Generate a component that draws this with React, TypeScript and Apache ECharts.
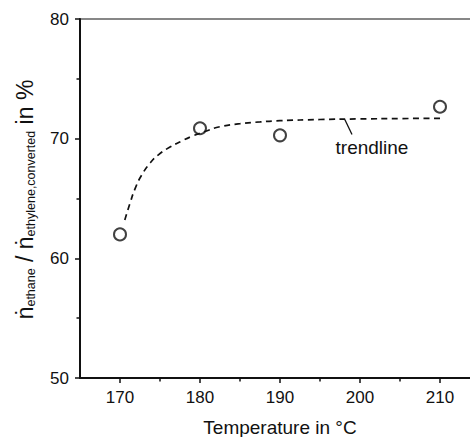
import React, { useEffect, useRef } from 'react';
import * as echarts from 'echarts';

const temperatures = [170, 180, 190, 210];
const ratios = [62.0, 70.87, 70.28, 72.67];

const trendTemps = [170.6, 171.25, 171.9, 172.7, 173.75, 174.8, 176.25, 177.7, 179, 180.6, 182.5, 185, 187.5, 190, 195, 200, 205, 210];
const trendRatios = [63.2, 64.6, 65.85, 66.95, 67.95, 68.65, 69.3, 69.8, 70.2, 70.6, 71.0, 71.25, 71.4, 71.5, 71.6, 71.65, 71.68, 71.7];

const xTickValues = [170, 180, 190, 200, 210];
const xMinorTickValues = [175, 185, 195, 205];
const xRange = [165, 215];
const yRange = [50, 80];
const yInterval = 10;

const xTitle = 'Temperature in °C';
const trendLabel = 'trendline';
const trendLabelAnchor = [196.94, 69.25];
const trendLeaderStart = [198.1, 71.6];
const trendLeaderEnd = [199.0, 70.35];

export default function App() {
  const ref = useRef<HTMLDivElement>(null);
  useEffect(() => {
    const chart = echarts.init(ref.current!, null, { renderer: 'svg' });
    const font = "'Liberation Sans', Arial, Helvetica, sans-serif";
    const ink = '#111';
    const axisLine = { show: true, onZero: false, lineStyle: { color: ink, width: 2 } };
    chart.setOption({
      animation: false,
      grid: {
        left: 80, top: 19, right: 0, bottom: 59,
        containLabel: false, outerBoundsMode: 'none',
        show: true, borderColor: ink, borderWidth: 1.2, backgroundColor: 'transparent',
      },
      xAxis: [
        {
          type: 'value', min: xRange[0], max: xRange[1], position: 'bottom',
          axisLine,
          axisTick: { show: true, customValues: xTickValues, length: 5, lineStyle: { color: ink, width: 1.5 } },
          axisLabel: { customValues: xTickValues, margin: 11, fontSize: 17, color: ink, fontFamily: font },
          splitLine: { show: false },
          name: xTitle, nameLocation: 'middle', nameGap: 40,
          nameTextStyle: { fontSize: 19, color: ink, fontFamily: font },
        },
        {
          type: 'value', min: xRange[0], max: xRange[1], position: 'bottom',
          axisLine: { show: false },
          axisTick: { show: true, customValues: xMinorTickValues, length: 3.5, lineStyle: { color: ink, width: 1.5 } },
          axisLabel: { show: false },
          splitLine: { show: false },
        },
      ],
      yAxis: {
        type: 'value', min: yRange[0], max: yRange[1], interval: yInterval,
        axisLine,
        axisTick: { show: true, length: 5, lineStyle: { color: ink, width: 1.5 } },
        minorTick: { show: true, splitNumber: 2, length: 3.5, lineStyle: { color: ink, width: 1.5 } },
        axisLabel: { margin: 11, fontSize: 17, color: ink, fontFamily: font },
        splitLine: { show: false },
        minorSplitLine: { show: false },
      },
      series: [
        {
          type: 'line', xAxisIndex: 0, yAxisIndex: 0,
          data: trendTemps.map((t, i) => [t, trendRatios[i]]),
          smooth: true, symbol: 'none', showSymbol: false,
          lineStyle: { color: ink, width: 1.7, type: [6, 4.5] },
          z: 2,
        },
        {
          type: 'scatter', xAxisIndex: 0, yAxisIndex: 0,
          data: temperatures.map((t, i) => [t, ratios[i]]),
          symbol: 'circle', symbolSize: 12,
          itemStyle: { color: 'transparent', borderColor: ink, borderWidth: 2 },
          z: 3,
        },
      ],
    });

    const finder = { xAxisIndex: 0, yAxisIndex: 0 };
    const lbl = chart.convertToPixel(finder, trendLabelAnchor) as number[];
    const l1 = chart.convertToPixel(finder, trendLeaderStart) as number[];
    const l2 = chart.convertToPixel(finder, trendLeaderEnd) as number[];

    const mainSize = 23;
    const subSize = 12.5;
    const mainV = -0.3465 * mainSize;
    const subV = 2 - 0.3465 * subSize;
    const mw = (s: string, size: number) => {
      // approximate widths for positioning fragments (Arial metrics)
      const w: Record<string, number> = { 'ṅ': 0.556, ' ': 0.278, '/': 0.278, i: 0.222, n: 0.556, '%': 0.889, e: 0.556, t: 0.278, h: 0.556, a: 0.556, y: 0.5, l: 0.222, ',': 0.278, c: 0.5, o: 0.556, v: 0.5, r: 0.333, d: 0.556 };
      let s0 = 0;
      for (const ch of s) s0 += (w[ch] ?? 0.556) * size;
      return s0;
    };
    const frags: [string, boolean][] = [
      ['ṅ', true], ['ethane', false], [' / ', true], ['ṅ', true], ['ethylene,converted', false], [' in %', true],
    ];
    let u = 0;
    const children: any[] = [];
    for (const [txt, main] of frags) {
      const size = main ? mainSize : subSize;
      children.push({
        type: 'text', x: u, y: main ? mainV : subV,
        style: { text: txt, fontSize: size, fontFamily: font, fill: ink, align: 'left', verticalAlign: 'middle' },
      });
      u += mw(txt, size);
    }
    const center = 199.5;

    chart.setOption({
      graphic: [
        {
          type: 'group', x: 33, y: center + u / 2, rotation: Math.PI / 2,
          children,
        },
        {
          type: 'text', x: lbl[0], y: lbl[1],
          style: { text: trendLabel, fontSize: 19, fontFamily: font, fill: ink, align: 'left', verticalAlign: 'middle' },
        },
        {
          type: 'line', shape: { x1: l1[0], y1: l1[1], x2: l2[0], y2: l2[1] },
          style: { stroke: ink, lineWidth: 1.3 },
        },
      ],
    });
    return () => chart.dispose();
  }, []);

  return (
    <div style={{ position: 'fixed', left: 0, top: 0, width: 470, height: 437, overflow: 'hidden', background: '#fff' }}>
      <div ref={ref} style={{ width: 480, height: 437 }} />
    </div>
  );
}
